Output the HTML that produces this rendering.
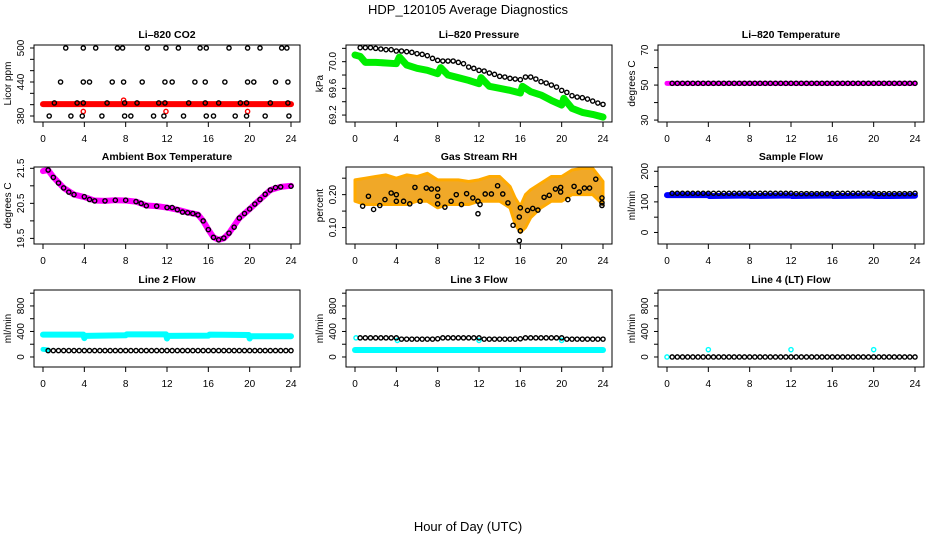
<!DOCTYPE html>
<html><head><meta charset="utf-8"><style>
body{margin:0;background:#fff;}
svg{display:block;font-family:"Liberation Sans",sans-serif;}
</style></head><body>
<svg id="c" width="936" height="540" viewBox="0 0 936 540">
<text x="468" y="14" font-size="13" text-anchor="middle">HDP_120105  Average Diagnostics</text>
<text x="468" y="531" font-size="13" text-anchor="middle">Hour of Day (UTC)</text>
</svg>
<script>
// ---- data ----
const xTicks=[0,4,8,12,16,20,24];
const halfHours=[0.5,1,1.5,2,2.5,3,3.5,4,4.5,5,5.5,6,6.5,7,7.5,8,8.5,9,9.5,10,10.5,11,11.5,12,12.5,13,13.5,14,14.5,15,15.5,16,16.5,17,17.5,18,18.5,19,19.5,20,20.5,21,21.5,22,22.5,23,23.5,24];
// CO2
const co2BlackHours=[2.2,3.9,5.1,7.2,7.7,10.1,11.9,13.1,15.2,15.8,18,19.8,21,23.1,23.6, 1.7,3.9,4.5,6.7,7.8,9.6,11.8,12.5,14.7,15.7,17.6,19.8,20.4,22.5,23.7, 1.1,3.3,3.9,6.2,7.9,9.1,11.2,11.8,14.1,15.7,17,19.1,19.7,22,23.7, 0.6,2.7,3.8,5.7,7.9,8.5,10.7,11.7,13.6,15.8,16.5,18.6,19.7,21.5,23.8];
const co2BlackVals=[500,500,500,500,500,500,500,500,500,500,500,500,500,500,500, 440,440,440,440,440,440,440,440,440,440,440,440,440,440,440, 403,403,403,403,403,403,403,403,403,403,403,403,403,403,403, 380,380,380,380,380,380,380,380,380,380,380,380,380,380,380];
const co2RedHours=[0,4,8,12,16,20,24];
const co2RedVals=[401,401,401,401,401,401,401];
const co2RedOutHours=[3.9,7.8,11.9,19.8];
const co2RedOutVals=[388,408,388,388];
// Pressure
const presBlackHours=[0.5,1,1.5,2,2.5,3,3.5,4,4.5,5,5.5,6,6.5,7,7.5,8,8.5,9,9.5,10,10.5,11,11.5,12,12.5,13,13.5,14,14.5,15,15.5,16,16.5,17,17.5,18,18.5,19,19.5,20,20.5,21,21.5,22,22.5,23,23.5,24];
const presBlackVals=[70.21,70.21,70.21,70.2,70.19,70.18,70.18,70.16,70.16,70.15,70.14,70.12,70.11,70.09,70.05,70.02,70.01,70.01,70.01,69.99,69.97,69.92,69.9,69.87,69.86,69.83,69.81,69.78,69.77,69.75,69.74,69.73,69.77,69.77,69.74,69.7,69.68,69.65,69.62,69.57,69.54,69.49,69.47,69.46,69.44,69.41,69.38,69.36];
const presGreenHours=[0,0.5,1,2,3,4,4.3,5,6,7,8,8.3,9,10,11,12,12.2,13,14,15,16,16.2,17,18,19,20,20.2,21,22,23,24];
const presGreenVals=[70.1,70.08,69.99,69.99,69.98,69.97,70.07,69.95,69.9,69.87,69.82,69.91,69.8,69.76,69.72,69.67,69.76,69.63,69.6,69.57,69.53,69.63,69.55,69.5,69.42,69.35,69.45,69.3,69.24,69.21,69.17];
// Li-820 temperature
const tempBlackVals=[51,51,51,51,51,51,51,51,51,51,51,51,51,51,51,51,51,51,51,51,51,51,51,51,51,51,51,51,51,51,51,51,51,51,51,51,51,51,51,51,51,51,51,51,51,51,51,51];
const tempMagHours=[0,24];
const tempMagVals=[51,51];
// Ambient box temperature
const ambHours=[0.5,1,1.5,2,2.5,3,4,4.5,5,6,7,8,9,9.5,10,11,12,12.5,13,13.5,14,14.5,15,15.5,16,16.5,17,17.5,18,18.5,19,19.5,20,20.5,21,21.5,22,22.5,23,24];
const ambBlackVals=[21.45,21.24,21.08,20.94,20.82,20.75,20.69,20.61,20.57,20.57,20.59,20.59,20.55,20.5,20.43,20.42,20.38,20.38,20.32,20.25,20.23,20.21,20.17,20.0,19.75,19.53,19.46,19.51,19.65,19.82,20.08,20.21,20.34,20.48,20.61,20.76,20.88,20.95,20.97,20.99];
const ambMagHours=[0,0.5,1,2,3,4,5,6,7,8,9,10,11,12,13,14,15,15.5,16,16.5,17,17.5,18,19,20,21,22,23,24];
const ambMagVals=[21.42,21.45,21.25,20.94,20.75,20.68,20.58,20.57,20.59,20.58,20.55,20.44,20.42,20.38,20.32,20.24,20.18,20.0,19.75,19.53,19.46,19.5,19.65,20.08,20.34,20.61,20.88,20.97,21.0];
// Gas stream RH
const rhBlackHours=[0.74,1.3,1.8,2.4,2.9,3.5,4,4,4.7,5.3,5.8,6.3,6.9,7.4,8,8,8,8.7,9.3,9.8,10.3,10.8,11.4,11.9,12.1,11.9,12.6,13.2,13.8,14.3,14.8,15.3,15.9,16,16,15.9,16.7,17.2,17.7,18.3,18.8,19.4,19.9,19.9,20.6,21.2,21.7,22.2,22.7,23.3,23.9,23.9,23.9];
const rhBlackVals=[0.165,0.195,0.155,0.167,0.185,0.205,0.2,0.18,0.18,0.172,0.222,0.18,0.22,0.217,0.217,0.195,0.172,0.162,0.18,0.2,0.17,0.203,0.19,0.18,0.17,0.142,0.202,0.202,0.227,0.202,0.175,0.107,0.132,0.16,0.09,0.06,0.152,0.158,0.153,0.192,0.198,0.217,0.222,0.208,0.185,0.225,0.208,0.22,0.22,0.247,0.19,0.175,0.167];
const rhBandHours=[0,1,2,3,4,5,6,7,8,9,10,11,12,13,14,15,15.5,16,16.5,17,18,19,20,21,22,23,24];
const rhUpper=[0.245,0.25,0.255,0.26,0.25,0.26,0.255,0.265,0.245,0.245,0.245,0.24,0.245,0.255,0.255,0.225,0.19,0.165,0.2,0.215,0.235,0.255,0.255,0.275,0.28,0.28,0.24];
const rhLower=[0.18,0.17,0.17,0.17,0.17,0.17,0.18,0.18,0.16,0.17,0.17,0.17,0.18,0.18,0.18,0.16,0.11,0.085,0.1,0.13,0.16,0.18,0.18,0.2,0.2,0.2,0.17];
// Sample flow
const sampBlackVals=[128,128,128,128,128,128,128,128,128,128,128,128,128,128,128,128,128,128,128,128,128,128,128,128,127,127,127,127,127,127,127,127,128,128,128,128,128,128,128,128,127,127,127,127,127,127,127,128];
const sampBlueHours=[0,4,4.1,8,8.1,12,12.1,16,16.1,20,20.1,24];
const sampBlueVals=[122,122,119,121,119,121,119,121,119,121,119,120];
// Line 2 flow
const l2BlackVals=[100,100,100,100,100,100,100,100,100,100,100,100,100,100,100,100,100,100,100,100,100,100,100,100,100,100,100,100,100,100,100,100,100,100,100,100,100,100,100,100,100,100,100,100,100,100,100,100];
const l2CyanHours=[0,3.9,4,4.1,8,8.1,11.9,12,12.1,16,16.1,19.9,20,20.1,24];
const l2CyanVals=[350,350,295,330,340,355,355,290,330,335,350,345,290,325,325];
const l2CyanLowHours=[0,0.5];
const l2CyanLowVals=[120,110];
// Line 3 flow
const l3BlackVals=[300,300,300,300,300,300,300,300,280,280,280,280,280,280,280,285,300,300,300,300,300,300,300,300,280,280,280,280,280,280,280,285,300,300,300,300,300,300,300,300,280,280,280,280,280,280,280,280];
const l3CyanHours=[0,24];
const l3CyanVals=[110,110];
const l3CyanOutHours=[0.1,4.1,12,20];
const l3CyanOutVals=[300,260,260,260];
// Line 4 flow
const l4BlackVals=[0,0,0,0,0,0,0,0,0,0,0,0,0,0,0,0,0,0,0,0,0,0,0,0,0,0,0,0,0,0,0,0,0,0,0,0,0,0,0,0,0,0,0,0,0,0,0,0];
const l4CyanHours=[0,4,12,20];
const l4CyanVals=[0,115,115,115];

// ---- layout ----
const NS="http://www.w3.org/2000/svg";
const svg=document.getElementById('c');
const colL=[34,346,658], colW=266;
const rowT=[45,167,290], rowH=77;
function mk(tag,attrs,parent){const e=document.createElementNS(NS,tag);for(const k in attrs)e.setAttribute(k,attrs[k]);(parent||svg).appendChild(e);return e;}

function panel(col,row,title,ylab,ylim,yTicks,yLabels,name){
  const L=colL[col],T=rowT[row],R=L+colW,B=T+rowH;
  const g=mk('g',{});
  
  
  const sx=h=>L+9+h*(colW-18)/24;
  const sy=v=>B-(v-ylim[0])*rowH/(ylim[1]-ylim[0]);
  const plot=mk('g',{},g);
  
  
  const t=mk('text',{x:(L+R)/2,y:T-7,'font-size':10.5,'font-weight':'bold','text-anchor':'middle'},g);
  t.textContent=title;
  
  
  const box=mk('rect',{x:L,y:T,width:colW,height:rowH,fill:'none',stroke:'#000','stroke-width':1},g);
  
  
  // x axis
  mk('line',{x1:sx(0),x2:sx(24),y1:B,y2:B,stroke:'#000'},g);
  xTicks.forEach(h=>{
    mk('line',{x1:sx(h),x2:sx(h),y1:B,y2:B+5,stroke:'#000'},g);
    const tl=mk('text',{x:sx(h),y:B+20,'font-size':10,'text-anchor':'middle'},g);
    tl.textContent=h;
    
    
  });
  // y axis
  const ax=L;
  yTicks.forEach(v=>mk('line',{x1:ax-4,x2:ax,y1:sy(v),y2:sy(v),stroke:'#000'},g));
  yLabels.forEach(v=>{
    const y=sy(parseFloat(v));
    const lx=L-10;
    const tl=mk('text',{x:lx,y:y,'font-size':10,'text-anchor':'middle',transform:`rotate(-90 ${lx} ${y})`},g);
    tl.textContent=v;
    
    
  });
  const yx=L-23;
  const yl=mk('text',{x:yx,y:(T+B)/2,'font-size':10,'text-anchor':'middle',transform:`rotate(-90 ${yx} ${(T+B)/2})`},g);
  yl.textContent=ylab;
  
  
  const band=(hs,vs,color,w,nm)=>{
    const p=mk('polyline',{points:hs.map((h,i)=>sx(h)+','+sy(vs[i])).join(' '),fill:'none',stroke:color,'stroke-width':w,'stroke-linecap':'round','stroke-linejoin':'round'},plot);
    
    
  };
  const pts=(hs,vs,color,nm,fill)=>{
    hs.forEach((h,i)=>{
      const c=mk('circle',{cx:sx(h),cy:sy(vs[i]),r:2.1,fill:fill||'none',stroke:color,'stroke-width':1.4},plot);
      
      
    });
  };
  const area=(hs,up,lo,color,nm)=>{
    const ptsStr=hs.map((h,i)=>sx(h)+','+sy(up[i])).concat(hs.slice().reverse().map((h,j)=>sx(h)+','+sy(lo[hs.length-1-j]))).join(' ');
    const p=mk('polygon',{points:ptsStr,fill:color,stroke:'#ffaa00','stroke-width':3,'stroke-linejoin':'round'},plot);
    
    
  };
  return {band,pts,area};
}

let p;
p=panel(0,0,'Li\u2013820 CO2','Licor ppm',[369.4,505.3],[380,400,420,440,460,480,500],['380','440','500'],'co2');
p.band(co2RedHours,co2RedVals,'#ff0000',6,'co2-red-band');
p.pts(co2RedOutHours,co2RedOutVals,'#ff0000','co2-red-point');
p.pts(co2BlackHours,co2BlackVals,'#000','co2-black-point');

p=panel(1,0,'Li\u2013820 Pressure','kPa',[69.096,70.25],[69.2,69.4,69.6,69.8,70.0,70.2],['69.2','69.6','70.0'],'pressure');
p.band(presGreenHours,presGreenVals,'#00ee00',7,'pressure-green-band');
p.pts(presBlackHours,presBlackVals,'#000','pressure-black-point');

p=panel(2,0,'Li\u2013820 Temperature','degrees C',[28.9,72.9],[30,40,50,60,70],['30','50','70'],'li820-temp');
p.band(tempMagHours,tempMagVals,'#ff00ff',5,'temp-magenta-band');
p.pts(halfHours,tempBlackVals,'#000','temp-black-point');

p=panel(0,1,'Ambient Box Temperature','degrees C',[19.34,21.537],[19.5,20,20.5,21,21.5],['19.5','20.5','21.5'],'ambient');
p.band(ambMagHours,ambMagVals,'#ff00ff',6,'ambient-magenta-band');
p.pts(ambHours,ambBlackVals,'#000','ambient-black-point');

p=panel(1,1,'Gas Stream RH','percent',[0.05,0.284],[0.10,0.15,0.20,0.25],['0.10','0.20'],'rh');
p.area(rhBandHours,rhUpper,rhLower,'#f0a828','rh-orange-band');
p.pts(rhBlackHours,rhBlackVals,'#000','rh-black-point');

p=panel(2,1,'Sample Flow','ml/min',[-37.7,214],[0,50,100,150,200],['0','100','200'],'sample-flow');
p.band(sampBlueHours,sampBlueVals,'#0000ff',6,'sample-blue-band');
p.pts(halfHours,sampBlackVals,'#000','sample-black-point');

p=panel(0,2,'Line 2 Flow','ml/min',[-157,1050],[0,200,400,600,800,1000],['0','400','800'],'line2');
p.band(l2CyanHours,l2CyanVals,'#00ffff',6,'line2-cyan-band');
p.band(l2CyanLowHours,l2CyanLowVals,'#00ffff',5,'line2-cyan-low');
p.pts(halfHours,l2BlackVals,'#000','line2-black-point');

p=panel(1,2,'Line 3 Flow','ml/min',[-157,1050],[0,200,400,600,800,1000],['0','400','800'],'line3');
p.band(l3CyanHours,l3CyanVals,'#00ffff',6,'line3-cyan-band');
p.pts(l3CyanOutHours,l3CyanOutVals,'#00ffff','line3-cyan-point');
p.pts(halfHours,l3BlackVals,'#000','line3-black-point');

p=panel(2,2,'Line 4 (LT) Flow','ml/min',[-157,1050],[0,200,400,600,800,1000],['0','400','800'],'line4');
p.pts(l4CyanHours,l4CyanVals,'#00ffff','line4-cyan-point');
p.pts(halfHours,l4BlackVals,'#000','line4-black-point');
</script>
</body></html>
